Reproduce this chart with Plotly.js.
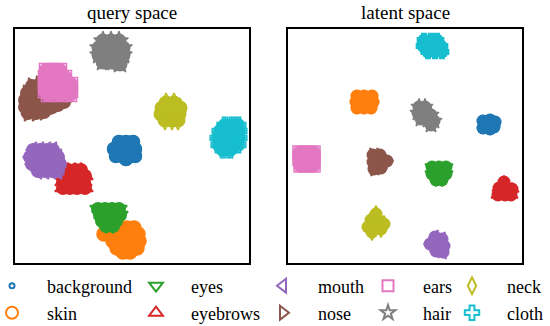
<!DOCTYPE html>
<html>
<head>
<meta charset="utf-8">
<script src="https://cdn.plot.ly/plotly-3.0.1.min.js"></script>
<style>html,body{margin:0;padding:0;background:#fff;}#chart{width:550px;height:326px;}</style>
</head>
<body>
<div id="chart"></div>
<script>
// ---------- DATA (embedding coordinates) ----------
const categories = ['background','skin','eyes','eyebrows','mouth','nose','ears','hair','neck','cloth'];
const panelTitles = ['query space','latent space'];

// query space
const qBackgroundX = [104,111,118,99,106,113,120,101,108,115,120,111];
const qBackgroundY = [121,121,121,114,114,114,114,107,107,107,107,104];
const qSkinX = [105,112,119,89,103,110,117,123,98,105,112,119,124,102,109,116,122,108,115];
const qSkinY = [35,35,35,29,29,29,29,29,22,22,22,22,22,15,15,15,15,11,11];
const qEyesX = [83,90,97,104,85,92,99,105,87,94,101,91,98];
const qEyesY = [54,54,54,54,48,48,48,48,42,42,42,37,37];
const qEyebrowsX = [53,60,66,49,56,63,70,48,55,62,69,48,55,62,70];
const qEyebrowsY = [93,93,93,87,87,87,87,81,81,81,81,75,75,75,75];
const qMouthX = [18,25,32,38,15,22,29,36,43,17,24,31,38,45,23,30,37,43];
const qMouthY = [113,113,113,113,106,106,106,106,106,99,99,99,99,99,92,92,92,92];
const qNoseX = [17,25,12,20,10,18,10,18,26,13,21,29,35,43,49,27,33];
const qNoseY = [177,179,170,170,163,163,156,156,156,150,150,151,155,158,161,163,167];
const qEarsX = [31,38,45,30,37,44,50,30,37,44,51,56,30,37,44,51,56,33,45,55];
const qEarsY = [193,193,193,186,186,186,186,179,179,179,179,179,172,172,172,172,172,168,168,168];
const qHairX = [88,96,104,84,92,100,108,84,92,100,108,88,96,104,105];
const qHairY = [222,222,222,215,215,215,215,208,208,208,208,201,201,201,199];
const qNeckX = [151,159,147,154,161,165,146,152,158,164,150,157,163];
const qNeckY = [160,160,155,155,155,155,149,149,149,149,143,143,143];
const qClothX = [210,217,223,205,212,219,224,203,210,217,224,204,211,218,223,208,215];
const qClothY = [138,138,138,132,132,132,132,125,125,125,125,118,118,118,118,113,113];

// latent space
const lBackgroundX = [195,202,207,195,202,206];
const lBackgroundY = [142,143,141,135,134,136];
const lSkinX = [69,76,84,68,75,82,85,69,76,83];
const lSkinY = [167,167,167,161,161,161,161,155,155,155];
const lEyesX = [144,151,158,144,151,158,148,154];
const lEyesY = [96,96,96,89,89,89,83,83];
const lEyebrowsX = [216,211,218,224,210,217,223];
const lEyebrowsY = [81,75,75,74,68,68,68];
const lMouthX = [147,154,142,149,156,148,155];
const lMouthY = [26,24,19,19,17,12,11];
const lNoseX = [85,92,85,92,99,86,93];
const lNoseY = [108,108,101,101,102,94,95];
const lEarsX = [11,18,26,11,18,26,12,19,26];
const lEarsY = [111,111,111,104,104,104,97,97,97];
const lHairX = [131,137,130,137,143,133,140,146,143];
const lHairY = [156,156,150,150,148,144,143,142,138];
const lNeckX = [88,83,90,96,80,87,93,84];
const lNeckY = [49,43,43,39,36,36,34,31];
const lClothX = [136,143,149,135,142,149,153,140,147,154];
const lClothY = [223,223,223,217,217,217,217,211,211,211];

// ---------- STYLE ----------
const colors = {background:'#1f77b4', skin:'#ff7f0e', eyes:'#2ca02c', eyebrows:'#d62728', mouth:'#9467bd',
  nose:'#8c564b', ears:'#e377c2', hair:'#7f7f7f', neck:'#bcbd22', cloth:'#17becf'};
const openSymbol = {background:'circle-open', skin:'circle-open', eyes:'triangle-down-open', eyebrows:'triangle-up-open',
  mouth:'triangle-left-open', nose:'triangle-right-open', ears:'square-open', hair:'star-open', neck:'diamond-tall-open', cloth:'cross-open'};
const legendSize = {background:5, skin:12, eyes:12, eyebrows:12, mouth:12, nose:12, ears:11, hair:11, neck:12, cloth:12};
const qFill = {background:14, skin:14, eyes:14, eyebrows:14, mouth:14, nose:14, ears:14, hair:15, neck:15, cloth:14};
const qEdge = {background:13, skin:14, eyes:14, eyebrows:14, mouth:14, nose:14, ears:13, hair:14, neck:14, cloth:13};
const lFill = {background:13, skin:13, eyes:13, eyebrows:13, mouth:13, nose:13, ears:13, hair:13, neck:13, cloth:13};
const lEdge = {background:11, skin:11, eyes:12, eyebrows:12, mouth:12, nose:12, ears:12, hair:12, neck:12, cloth:11};

const query = {
  background:[qBackgroundX,qBackgroundY], skin:[qSkinX,qSkinY], eyes:[qEyesX,qEyesY], eyebrows:[qEyebrowsX,qEyebrowsY],
  mouth:[qMouthX,qMouthY], nose:[qNoseX,qNoseY], ears:[qEarsX,qEarsY], hair:[qHairX,qHairY], neck:[qNeckX,qNeckY], cloth:[qClothX,qClothY]};
const latent = {
  background:[lBackgroundX,lBackgroundY], skin:[lSkinX,lSkinY], eyes:[lEyesX,lEyesY], eyebrows:[lEyebrowsX,lEyebrowsY],
  mouth:[lMouthX,lMouthY], nose:[lNoseX,lNoseY], ears:[lEarsX,lEarsY], hair:[lHairX,lHairY], neck:[lNeckX,lNeckY], cloth:[lClothX,lClothY]};

const W = 550, H = 326;
const FONT = 'Liberation Serif, Times New Roman, serif';
const traces = [];
[[query,'x','y',qFill,qEdge],[latent,'x2','y2',lFill,lEdge]].forEach(([set,xa,ya,fs,es]) => {
  categories.forEach(c => {
    // dense core of the cluster
    traces.push({type:'scatter', mode:'markers', x:set[c][0], y:set[c][1], xaxis:xa, yaxis:ya,
      name:c, showlegend:false, hoverinfo:'name',
      marker:{symbol:'circle', size:fs[c], color:colors[c], line:{width:0}}});
    // the class marker outlines that give the cluster its ragged edge
    traces.push({type:'scatter', mode:'markers', x:set[c][0], y:set[c][1], xaxis:xa, yaxis:ya,
      name:c, showlegend:false, hoverinfo:'skip',
      marker:{symbol:openSymbol[c], size:es[c], color:colors[c], line:{width:1.5, color:colors[c]}}});
  });
});

function axis(domain, extra){
  return Object.assign({domain:domain, range:[0,234], showticklabels:false, ticks:'', showgrid:false, zeroline:false,
    showline:true, mirror:true, linecolor:'#000', linewidth:1.6, fixedrange:true}, extra||{});
}

// legend layout: 5 columns x 2 rows (column-major)
const colX = [12,156,283,388,472];
const rowY = [287,314];
const layout = {
  width:W, height:H, margin:{l:0,r:0,t:0,b:0,autoexpand:false}, paper_bgcolor:'#fff', plot_bgcolor:'#fff',
  font:{family:FONT, color:'#000'}, showlegend:true,
  xaxis:axis([15/W,249/W]),
  yaxis:axis([1-263/H,1-29/H]),
  xaxis2:axis([288/W,522/W],{anchor:'y2'}),
  yaxis2:axis([1-263/H,1-29/H],{anchor:'x2'}),
  annotations:[
    {text:panelTitles[0], xref:'paper', yref:'paper', x:132/W, y:1-12/H, xanchor:'center', yanchor:'middle', showarrow:false, font:{family:FONT,size:19,color:'#000'}},
    {text:panelTitles[1], xref:'paper', yref:'paper', x:405/W, y:1-12/H, xanchor:'center', yanchor:'middle', showarrow:false, font:{family:FONT,size:19,color:'#000'}}
  ]
};

categories.forEach((c,i) => {
  const col = Math.floor(i/2), row = i%2;
  const key = i === 0 ? 'legend' : 'legend' + (i+1);
  layout[key] = {x:(colX[col]-35)/W, xanchor:'left', y:1-(rowY[row]-1)/H, yanchor:'middle', orientation:'v',
    itemwidth:60, bgcolor:'rgba(0,0,0,0)', borderwidth:0, font:{family:FONT,size:18,color:'#000'},
    itemclick:false, itemdoubleclick:false};
  traces.push({type:'scatter', mode:'markers', x:[null], y:[null], name:c, legend:key, showlegend:true,
    marker:{symbol:openSymbol[c], size:legendSize[c], color:colors[c], line:{width:2, color:colors[c]}}});
});

Plotly.newPlot('chart', traces, layout, {staticPlot:true, displayModeBar:false});
</script>
</body>
</html>
